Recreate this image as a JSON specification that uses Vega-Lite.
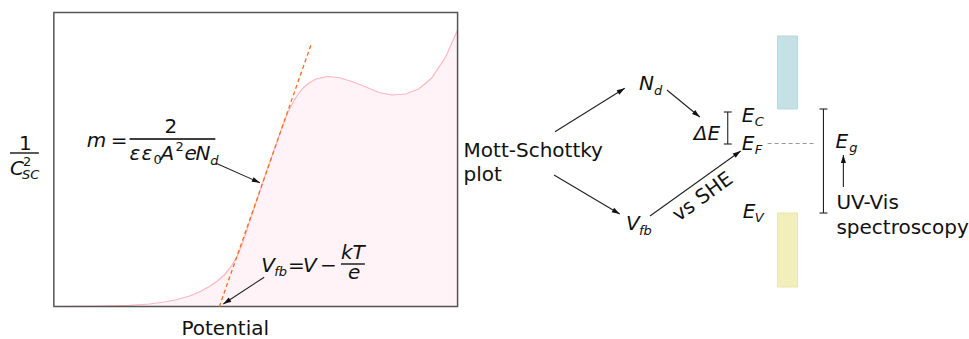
{
  "$schema": "https://vega.github.io/schema/vega-lite/v6.json",
  "width": 969,
  "height": 339,
  "autosize": {"type": "fit", "contains": "padding"},
  "padding": 0,
  "background": "#ffffff",
  "config": {"view": {"stroke": null}, "text": {"font": "DejaVu Sans"}},
  "datasets": {
    "curve": [
      {"p": 54, "v": 306.5}, {"p": 100, "v": 306}, {"p": 130, "v": 305.3}, {"p": 150, "v": 304},
      {"p": 165, "v": 302}, {"p": 178, "v": 299.5}, {"p": 190, "v": 296}, {"p": 200, "v": 292},
      {"p": 210, "v": 286.5}, {"p": 218, "v": 281}, {"p": 225, "v": 275}, {"p": 232, "v": 266.5},
      {"p": 238, "v": 256}, {"p": 243, "v": 244}, {"p": 247, "v": 232}, {"p": 252, "v": 217},
      {"p": 258, "v": 199}, {"p": 264, "v": 181}, {"p": 270, "v": 164}, {"p": 276, "v": 147},
      {"p": 282, "v": 130}, {"p": 288, "v": 114}, {"p": 293, "v": 104}, {"p": 298, "v": 95.5},
      {"p": 304, "v": 88}, {"p": 310, "v": 83}, {"p": 317, "v": 79}, {"p": 328, "v": 76.5},
      {"p": 340, "v": 77.5}, {"p": 353, "v": 81.5}, {"p": 367, "v": 87}, {"p": 380, "v": 92.5},
      {"p": 393, "v": 95}, {"p": 407, "v": 94}, {"p": 420, "v": 89}, {"p": 433, "v": 78},
      {"p": 447, "v": 57}, {"p": 459, "v": 30}
    ],
    "seg": [
      {"k": "arrow", "x1": 216.7, "y1": 163.3, "x2": 260.7, "y2": 182.7},
      {"k": "arrow", "x1": 265, "y1": 277.3, "x2": 224, "y2": 304},
      {"k": "arrow", "x1": 556.7, "y1": 131.7, "x2": 626.7, "y2": 88.3},
      {"k": "arrow", "x1": 555.7, "y1": 175, "x2": 621.7, "y2": 214},
      {"k": "arrow", "x1": 669, "y1": 90, "x2": 702, "y2": 117},
      {"k": "arrow", "x1": 652, "y1": 216, "x2": 743, "y2": 151},
      {"k": "arrow", "x1": 846, "y1": 187, "x2": 846, "y2": 155},
      {"k": "tangent", "x1": 220, "y1": 306.7, "x2": 312.7, "y2": 42.7},
      {"k": "ibeam", "x1": 730, "y1": 112, "x2": 730, "y2": 144},
      {"k": "ibeam", "x1": 726, "y1": 112, "x2": 734, "y2": 112},
      {"k": "ibeam", "x1": 726, "y1": 144, "x2": 734, "y2": 144},
      {"k": "ibeam", "x1": 826, "y1": 109, "x2": 826, "y2": 213},
      {"k": "ibeam", "x1": 822, "y1": 109, "x2": 830, "y2": 109},
      {"k": "ibeam", "x1": 822, "y1": 213, "x2": 830, "y2": 213},
      {"k": "dash", "x1": 770, "y1": 143.5, "x2": 816, "y2": 143.5},
      {"k": "bar", "x1": 10, "y1": 153, "x2": 39, "y2": 153},
      {"k": "bar", "x1": 130, "y1": 139, "x2": 216, "y2": 139},
      {"k": "bar", "x1": 342, "y1": 264, "x2": 366, "y2": 264}
    ],
    "boxes": [
      {"k": "frame", "x1": 54, "x2": 459, "y1": 12.5, "y2": 306.5},
      {"k": "cb", "x1": 780, "x2": 800, "y1": 36, "y2": 109},
      {"k": "vb", "x1": 780, "x2": 800, "y1": 213, "y2": 287}
    ],
    "labels": [
      {"k": "text", "t": "Potential", "x": 182, "y": 335},
      {"k": "text", "t": "Mott-Schottky", "x": 465, "y": 157},
      {"k": "text", "t": "plot", "x": 465, "y": 181},
      {"k": "text", "t": "UV-Vis", "x": 839, "y": 209},
      {"k": "text", "t": "spectroscopy", "x": 839, "y": 234},
      {"k": "mathup", "t": "1", "x": 19, "y": 150},
      {"k": "mathup", "t": "=", "x": 111, "y": 147},
      {"k": "mathup", "t": "2", "x": 165, "y": 133},
      {"k": "mathup", "t": "=", "x": 289, "y": 272},
      {"k": "mathup", "t": "−", "x": 321, "y": 272},
      {"k": "math", "t": "m", "x": 87, "y": 147},
      {"k": "math", "t": "ε", "x": 130, "y": 160},
      {"k": "math", "t": "ε", "x": 142, "y": 160},
      {"k": "math", "t": "A", "x": 161, "y": 160},
      {"k": "math", "t": "e", "x": 185, "y": 160},
      {"k": "math", "t": "N", "x": 196, "y": 160},
      {"k": "math", "t": "C", "x": 10, "y": 175},
      {"k": "math", "t": "V", "x": 262, "y": 272},
      {"k": "math", "t": "V", "x": 304, "y": 272},
      {"k": "math", "t": "kT", "x": 342, "y": 259},
      {"k": "math", "t": "e", "x": 349, "y": 279},
      {"k": "math", "t": "N", "x": 641, "y": 90},
      {"k": "math", "t": "ΔE", "x": 696, "y": 140},
      {"k": "math", "t": "E", "x": 744, "y": 122},
      {"k": "math", "t": "E", "x": 744, "y": 150},
      {"k": "math", "t": "E", "x": 745, "y": 218},
      {"k": "math", "t": "V", "x": 628, "y": 230},
      {"k": "math", "t": "E", "x": 838, "y": 148},
      {"k": "sub", "t": "d", "x": 211, "y": 165},
      {"k": "sub", "t": "SC", "x": 22, "y": 179},
      {"k": "sub", "t": "fb", "x": 275, "y": 276},
      {"k": "sub", "t": "d", "x": 656, "y": 95},
      {"k": "sub", "t": "C", "x": 757, "y": 126},
      {"k": "sub", "t": "F", "x": 757, "y": 154},
      {"k": "sub", "t": "V", "x": 757, "y": 222},
      {"k": "sub", "t": "fb", "x": 641, "y": 235},
      {"k": "sub", "t": "g", "x": 852, "y": 152},
      {"k": "subup", "t": "0", "x": 154, "y": 164},
      {"k": "subup", "t": "2", "x": 176, "y": 151},
      {"k": "subup", "t": "2", "x": 23, "y": 166},
      {"k": "rot", "t": "vs SHE", "x": 705, "y": 197}
    ]
  },
  "layer": [
    {
      "data": {"name": "curve"},
      "mark": {"type": "area", "color": "#fff3f7", "opacity": 1},
      "encoding": {
        "x": {"field": "p", "type": "quantitative", "scale": {"domain": [0, 969], "nice": false, "zero": false}, "axis": null},
        "y": {"field": "v", "type": "quantitative", "scale": {"domain": [0, 339], "reverse": true, "nice": false, "zero": false}, "axis": null},
        "y2": {"datum": 306.5}
      }
    },
    {
      "data": {"name": "curve"},
      "mark": {"type": "line", "color": "#ffb6c1", "strokeWidth": 1.2},
      "encoding": {
        "x": {"field": "p", "type": "quantitative", "scale": {"domain": [0, 969], "nice": false, "zero": false}, "axis": null},
        "y": {"field": "v", "type": "quantitative", "scale": {"domain": [0, 339], "reverse": true, "nice": false, "zero": false}, "axis": null}
      }
    },
    {
      "data": {"name": "boxes"},
      "transform": [{"filter": "datum.k !== 'frame'"}],
      "mark": {"type": "rect", "strokeWidth": 1, "opacity": 1},
      "encoding": {
        "x": {"field": "x1", "type": "quantitative", "scale": {"domain": [0, 969], "nice": false, "zero": false}, "axis": null},
        "x2": {"field": "x2"},
        "y": {"field": "y1", "type": "quantitative", "scale": {"domain": [0, 339], "reverse": true, "nice": false, "zero": false}, "axis": null},
        "y2": {"field": "y2"},
        "fill": {"field": "k", "type": "nominal", "scale": {"domain": ["cb", "vb"], "range": ["#c5e1e6", "#f3efbd"]}, "legend": null},
        "stroke": {"field": "k", "type": "nominal", "scale": {"domain": ["cb", "vb"], "range": ["#b5dadf", "#ebe5a8"]}, "legend": null}
      }
    },
    {
      "data": {"name": "boxes"},
      "transform": [{"filter": "datum.k === 'frame'"}],
      "mark": {"type": "rect", "fillOpacity": 0, "stroke": "#555555", "strokeWidth": 1.5},
      "encoding": {
        "x": {"field": "x1", "type": "quantitative", "scale": {"domain": [0, 969], "nice": false, "zero": false}, "axis": null},
        "x2": {"field": "x2"},
        "y": {"field": "y1", "type": "quantitative", "scale": {"domain": [0, 339], "reverse": true, "nice": false, "zero": false}, "axis": null},
        "y2": {"field": "y2"}
      }
    },
    {
      "data": {"name": "seg"},
      "transform": [{"filter": "datum.k === 'tangent'"}],
      "mark": {"type": "rule", "color": "#ff6a1a", "strokeWidth": 1.3, "strokeDash": [4, 3]},
      "encoding": {
        "x": {"field": "x1", "type": "quantitative", "scale": {"domain": [0, 969], "nice": false, "zero": false}, "axis": null},
        "x2": {"field": "x2"},
        "y": {"field": "y1", "type": "quantitative", "scale": {"domain": [0, 339], "reverse": true, "nice": false, "zero": false}, "axis": null},
        "y2": {"field": "y2"}
      }
    },
    {
      "data": {"name": "seg"},
      "transform": [{"filter": "datum.k === 'dash'"}],
      "mark": {"type": "rule", "color": "#999999", "strokeWidth": 1.2, "strokeDash": [4, 3]},
      "encoding": {
        "x": {"field": "x1", "type": "quantitative", "scale": {"domain": [0, 969], "nice": false, "zero": false}, "axis": null},
        "x2": {"field": "x2"},
        "y": {"field": "y1", "type": "quantitative", "scale": {"domain": [0, 339], "reverse": true, "nice": false, "zero": false}, "axis": null},
        "y2": {"field": "y2"}
      }
    },
    {
      "data": {"name": "seg"},
      "transform": [{"filter": "datum.k === 'arrow' || datum.k === 'ibeam'"}],
      "mark": {"type": "rule", "color": "#222222", "strokeWidth": 1.1},
      "encoding": {
        "x": {"field": "x1", "type": "quantitative", "scale": {"domain": [0, 969], "nice": false, "zero": false}, "axis": null},
        "x2": {"field": "x2"},
        "y": {"field": "y1", "type": "quantitative", "scale": {"domain": [0, 339], "reverse": true, "nice": false, "zero": false}, "axis": null},
        "y2": {"field": "y2"}
      }
    },
    {
      "data": {"name": "seg"},
      "transform": [{"filter": "datum.k === 'bar'"}],
      "mark": {"type": "rule", "color": "#000000", "strokeWidth": 1.3},
      "encoding": {
        "x": {"field": "x1", "type": "quantitative", "scale": {"domain": [0, 969], "nice": false, "zero": false}, "axis": null},
        "x2": {"field": "x2"},
        "y": {"field": "y1", "type": "quantitative", "scale": {"domain": [0, 339], "reverse": true, "nice": false, "zero": false}, "axis": null},
        "y2": {"field": "y2"}
      }
    },
    {
      "data": {"name": "seg"},
      "transform": [
        {"filter": "datum.k === 'arrow'"},
        {"calculate": "atan2(datum.x2 - datum.x1, datum.y1 - datum.y2) * 180 / PI", "as": "ang"}
      ],
      "mark": {"type": "point", "shape": "M0,0L-0.32,1L0.32,1Z", "filled": true, "size": 256, "opacity": 1, "color": "#111111", "strokeWidth": 0},
      "encoding": {
        "x": {"field": "x2", "type": "quantitative", "scale": {"domain": [0, 969], "nice": false, "zero": false}, "axis": null},
        "y": {"field": "y2", "type": "quantitative", "scale": {"domain": [0, 339], "reverse": true, "nice": false, "zero": false}, "axis": null},
        "angle": {"field": "ang", "type": "quantitative", "scale": null}
      }
    },
    {
      "data": {"name": "labels"},
      "transform": [{"filter": "datum.k === 'text'"}],
      "mark": {"type": "text", "align": "left", "baseline": "alphabetic", "fontSize": 20, "color": "#111111"},
      "encoding": {
        "x": {"field": "x", "type": "quantitative", "scale": {"domain": [0, 969], "nice": false, "zero": false}, "axis": null},
        "y": {"field": "y", "type": "quantitative", "scale": {"domain": [0, 339], "reverse": true, "nice": false, "zero": false}, "axis": null},
        "text": {"field": "t"}
      }
    },
    {
      "data": {"name": "labels"},
      "transform": [{"filter": "datum.k === 'mathup'"}],
      "mark": {"type": "text", "align": "left", "baseline": "alphabetic", "fontSize": 20, "color": "#111111"},
      "encoding": {
        "x": {"field": "x", "type": "quantitative", "scale": {"domain": [0, 969], "nice": false, "zero": false}, "axis": null},
        "y": {"field": "y", "type": "quantitative", "scale": {"domain": [0, 339], "reverse": true, "nice": false, "zero": false}, "axis": null},
        "text": {"field": "t"}
      }
    },
    {
      "data": {"name": "labels"},
      "transform": [{"filter": "datum.k === 'math'"}],
      "mark": {"type": "text", "align": "left", "baseline": "alphabetic", "fontSize": 20, "fontStyle": "italic", "color": "#111111"},
      "encoding": {
        "x": {"field": "x", "type": "quantitative", "scale": {"domain": [0, 969], "nice": false, "zero": false}, "axis": null},
        "y": {"field": "y", "type": "quantitative", "scale": {"domain": [0, 339], "reverse": true, "nice": false, "zero": false}, "axis": null},
        "text": {"field": "t"}
      }
    },
    {
      "data": {"name": "labels"},
      "transform": [{"filter": "datum.k === 'sub'"}],
      "mark": {"type": "text", "align": "left", "baseline": "alphabetic", "fontSize": 13, "fontStyle": "italic", "color": "#111111"},
      "encoding": {
        "x": {"field": "x", "type": "quantitative", "scale": {"domain": [0, 969], "nice": false, "zero": false}, "axis": null},
        "y": {"field": "y", "type": "quantitative", "scale": {"domain": [0, 339], "reverse": true, "nice": false, "zero": false}, "axis": null},
        "text": {"field": "t"}
      }
    },
    {
      "data": {"name": "labels"},
      "transform": [{"filter": "datum.k === 'subup'"}],
      "mark": {"type": "text", "align": "left", "baseline": "alphabetic", "fontSize": 13, "color": "#111111"},
      "encoding": {
        "x": {"field": "x", "type": "quantitative", "scale": {"domain": [0, 969], "nice": false, "zero": false}, "axis": null},
        "y": {"field": "y", "type": "quantitative", "scale": {"domain": [0, 339], "reverse": true, "nice": false, "zero": false}, "axis": null},
        "text": {"field": "t"}
      }
    },
    {
      "data": {"name": "labels"},
      "transform": [{"filter": "datum.k === 'rot'"}],
      "mark": {"type": "text", "align": "center", "baseline": "middle", "fontSize": 20, "angle": -36, "color": "#111111"},
      "encoding": {
        "x": {"field": "x", "type": "quantitative", "scale": {"domain": [0, 969], "nice": false, "zero": false}, "axis": null},
        "y": {"field": "y", "type": "quantitative", "scale": {"domain": [0, 339], "reverse": true, "nice": false, "zero": false}, "axis": null},
        "text": {"field": "t"}
      }
    }
  ]
}
